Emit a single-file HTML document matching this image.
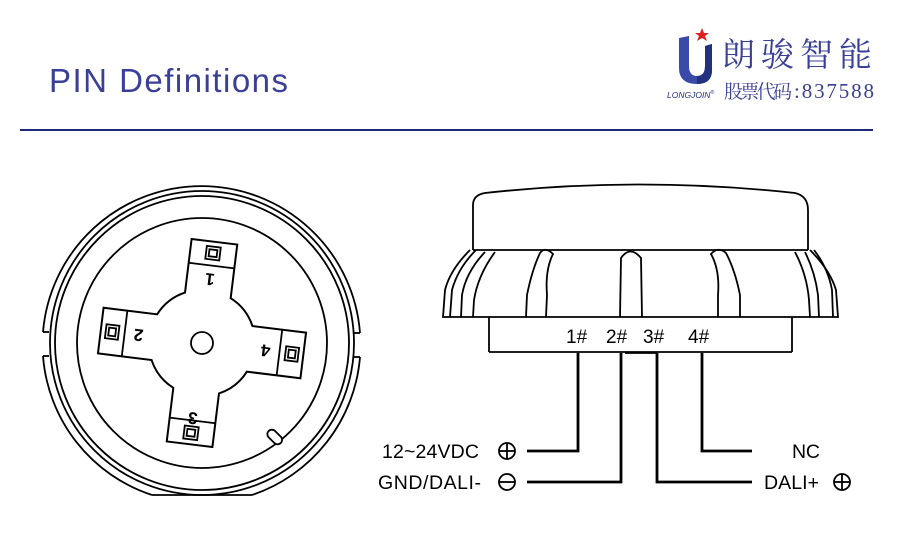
<!DOCTYPE html>
<html><head><meta charset="utf-8"><style>
body{margin:0;background:#fff;width:899px;height:537px;overflow:hidden}
svg{display:block}
</style></head><body>
<svg width="899" height="537" viewBox="0 0 899 537" xmlns="http://www.w3.org/2000/svg">
<text x="49" y="92" font-family="Liberation Sans, sans-serif" font-size="33" fill="#3a3f98" textLength="239">PIN Definitions</text>
<line x1="20" y1="130" x2="873" y2="130" stroke="#1f2a7c" stroke-width="2"/>
<!-- logo -->
<path d="M679 38 L689 36 L689 66 Q689 76 697 76 Q705 76 705 66 L705 46 L712 44 L712 70 Q712 84 697 84 Q679 84 679 68 Z" fill="#3b4aa8"/>
<path d="M705 46 L712 44 L712 70 Q712 84 697 84 L697 76 Q705 76 705 66Z" fill="#23307e"/>
<polygon points="702,28 704,33 709,33 705,36 707,41 702,38 697,41 699,36 695,33 700,33" fill="#e02020"/>
<text x="667" y="98" font-family="Liberation Sans, sans-serif" font-size="8.5" font-style="italic" fill="#23307e">LONGJOIN<tspan font-size="5" dy="-4">®</tspan></text>
<text x="722" y="66" font-family="Noto Serif CJK SC, serif" font-size="33" fill="#3a3f98" textLength="150">朗骏智能</text>
<text x="724" y="98" font-family="Noto Serif CJK SC, serif" font-size="19" fill="#3a3f98" textLength="68">股票代码</text>
<text x="794" y="98" font-family="Liberation Serif, serif" font-size="21" fill="#3a3f98" textLength="80">:837588</text>
<!-- circle view -->
<g fill="none" stroke="#000" stroke-width="1.8">
<path d="M43 332 A159 159 0 0 1 360 333"/>
<path d="M43 356 A159 159 0 0 0 152 495"/>
<path d="M360 357 A159 159 0 0 1 252 495"/>
<line x1="152" y1="495" x2="252" y2="495"/>
<line x1="43" y1="332" x2="49" y2="332"/><line x1="43" y1="356" x2="49" y2="356"/>
<line x1="354" y1="333" x2="360" y2="333"/><line x1="354" y1="357" x2="360" y2="357"/>
<circle cx="202" cy="343" r="152"/>
<circle cx="202" cy="343" r="147"/>
<circle cx="202" cy="343" r="125"/>
<g transform="translate(202,343) rotate(7)">
<path d="M-23 -102 L23 -102 L23 -48 A52 52 0 0 1 48 -23 L102 -23 L102 23 L48 23 A52 52 0 0 1 23 48 L23 102 L-23 102 L-23 48 A52 52 0 0 1 -48 23 L-102 23 L-102 -23 L-48 -23 A52 52 0 0 1 -23 -48 Z" fill="#fff" stroke-width="2"/>
<line x1="-23" y1="-78" x2="23" y2="-78"/><line x1="-23" y1="78" x2="23" y2="78"/>
<line x1="-78" y1="-23" x2="-78" y2="23"/><line x1="78" y1="-23" x2="78" y2="23"/>
<rect x="-7" y="-97" width="14" height="13"/><rect x="-4" y="-94" width="8" height="7"/>
<rect x="-7" y="84" width="14" height="13"/><rect x="-4" y="87" width="8" height="7"/>
<rect x="-97" y="-7" width="13" height="14"/><rect x="-94" y="-4" width="7" height="8"/>
<rect x="84" y="-7" width="13" height="14"/><rect x="87" y="-4" width="7" height="8"/>
<g fill="#000" stroke="none" font-family="Liberation Sans, sans-serif" font-weight="bold" font-size="17" text-anchor="middle">
<text transform="translate(0,-70) rotate(180)">1</text>
<text transform="translate(-64,-6) rotate(180)">2</text>
<text transform="translate(0,70) rotate(180)">3</text>
<text transform="translate(64,-6) rotate(180)">4</text>
</g>
</g>
<circle cx="202" cy="343" r="11" fill="#fff"/>
<rect x="266" y="432" width="17" height="9" rx="4.5" transform="rotate(45 274 437)" fill="#fff"/>
</g>
<!-- side view -->
<g fill="none" stroke="#000" stroke-width="1.8">
<path d="M473 250 L473 205 Q473 195 485 193 Q640 176 795 193 Q808 196 808 210 L808 250"/>
<path d="M473 250 L808 250"/>
<path d="M470 250 Q450 270 445 290 L443 317 L838 317 L836 290 Q830 270 810 250"/>
<line x1="489" y1="317" x2="489" y2="352"/><line x1="792" y1="317" x2="792" y2="352"/>
<line x1="489" y1="352" x2="792" y2="352"/>
<path d="M476 250 Q458 268 452 290 L450 317"/>
<path d="M485 252 Q466 272 462 295 L461 317"/>
<path d="M495 252 Q478 275 474 300 L473 317"/>
<path d="M526 317 L527 295 Q532 270 540 253 Q545 246 553 254 Q545 270 547 295 L546 317"/>
<path d="M620 317 L621 258 Q630 245 641 258 L642 317"/>
<path d="M718 317 L718 295 Q720 270 711 254 Q718 246 726 253 Q735 270 740 295 L740 317"/>
<path d="M805 252 Q815 272 818 295 L819 317"/>
<path d="M795 252 Q807 275 809 300 L810 317"/>
<path d="M814 250 Q828 268 832 290 L833 317"/>
<line x1="625" y1="353" x2="657" y2="353"/>
</g>
<g font-family="Liberation Sans, sans-serif" font-size="19" fill="#000">
<text x="566" y="343">1#</text><text x="606" y="343">2#</text><text x="643" y="343">3#</text><text x="688" y="343">4#</text>
</g>
<g fill="none" stroke="#000" stroke-width="2.8">
<path d="M578 353 L578 451 L527 451"/>
<path d="M621 353 L621 482 L527 482"/>
<path d="M657 353 L657 482 L752 482"/>
<path d="M702 353 L702 451 L752 451"/>
</g>
<g font-family="Liberation Sans, sans-serif" font-size="19.5" fill="#000">
<text x="382" y="458" textLength="97">12~24VDC</text>
<text x="378" y="489" textLength="103">GND/DALI-</text>
<text x="792" y="458" textLength="28">NC</text>
<text x="764" y="489" textLength="55">DALI+</text>
</g>
<g fill="none" stroke="#000" stroke-width="1.8">
<circle cx="507" cy="451" r="8"/><line x1="499" y1="451" x2="515" y2="451"/><line x1="507" y1="443" x2="507" y2="459"/>
<circle cx="507" cy="482" r="8"/><line x1="499" y1="482" x2="515" y2="482"/>
<circle cx="842" cy="482" r="8"/><line x1="834" y1="482" x2="850" y2="482"/><line x1="842" y1="474" x2="842" y2="490"/>
</g>
</svg>
</body></html>
